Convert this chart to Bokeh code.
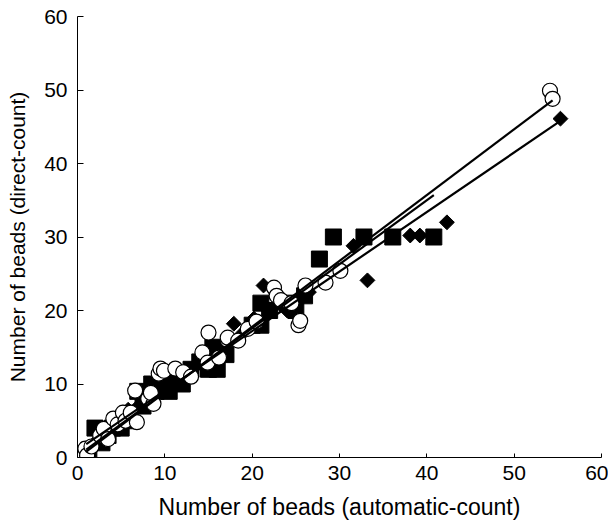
from bokeh.plotting import figure
from bokeh.models import Range1d, FixedTicker
from bokeh.embed import file_html
from bokeh.resources import INLINE
import numpy as np

# ---- data ----
circle_x = [0.9, 1.1, 1.6, 2.6, 3.0, 3.5, 4.1, 4.6, 5.2, 5.5, 6.1, 6.6, 6.8, 8.1, 8.7, 8.4,
            9.3, 9.5, 9.9, 11.2, 12.1, 13.0, 14.3, 14.9, 15.0, 16.2, 17.2, 18.4, 19.5, 20.5,
            22.5, 22.8, 23.3, 24.5, 25.3, 25.5, 26.1, 28.4, 30.1, 54.1, 54.4]
circle_y = [1.2, 0.3, 1.5, 3.0, 3.9, 2.5, 5.3, 4.5, 6.1, 5.0, 6.1, 9.1, 4.8, 8.0, 7.3, 8.8,
            11.4, 12.1, 11.8, 12.1, 11.6, 11.0, 14.3, 12.9, 17.0, 13.6, 16.3, 15.9, 17.5, 18.5,
            23.1, 22.0, 21.4, 21.0, 18.0, 18.6, 23.4, 23.8, 25.4, 49.9, 48.8]

square_x = [1.3, 2.0, 2.8, 3.5, 4.0, 5.0, 5.5, 6.0, 6.9, 7.5, 8.5, 9.0, 10.0, 10.5, 11.0,
            12.0, 13.0, 14.0, 15.0, 15.5, 16.0, 17.0, 20.0, 21.0, 21.0, 22.0, 24.0, 25.0,
            26.0, 27.7, 29.3, 32.8, 36.1, 40.8]
square_y = [1.0, 4.0, 2.0, 3.0, 4.0, 4.0, 5.0, 6.0, 9.0, 7.0, 10.0, 9.0, 10.0, 9.0, 11.0,
            10.0, 12.0, 13.0, 12.0, 15.0, 12.0, 14.0, 18.0, 18.0, 21.0, 20.0, 21.0, 20.0,
            22.0, 27.0, 30.0, 30.0, 30.0, 30.0]

diamond_x = [1.0, 2.0, 3.0, 4.0, 5.0, 5.8, 7.0, 8.0, 9.0, 10.0, 11.0, 12.0, 13.0, 14.0,
             15.0, 16.0, 17.9, 19.0, 20.2, 21.3, 21.3, 23.0, 24.0, 25.0, 26.5, 31.6, 33.2,
             38.1, 39.2, 42.3, 55.3]
diamond_y = [1.0, 2.0, 2.5, 4.0, 5.0, 6.5, 7.0, 8.0, 10.0, 9.0, 10.0, 11.0, 11.0, 13.0,
             14.0, 15.0, 18.2, 17.0, 18.9, 20.7, 23.4, 22.0, 20.0, 21.0, 22.5, 28.8, 24.1,
             30.2, 30.2, 32.0, 46.1]

# regression lines (circles, squares, diamonds)
fit_slope = [0.895, 0.870, 0.810]
fit_intercept = [-0.1, 0.2, 1.0]
fit_x_start = [1.0, 1.0, 1.0]
fit_x_end = [54.4, 40.8, 55.3]

x_ticks = [0, 10, 20, 30, 40, 50, 60]
y_ticks = [0, 10, 20, 30, 40, 50, 60]

FONT = "Liberation Sans"

p = figure(width=608, height=524, x_range=Range1d(0, 60), y_range=Range1d(0, 60),
           output_backend="svg", toolbar_location=None,
           min_border_left=77, min_border_right=7, min_border_top=16, min_border_bottom=67)
p.outline_line_color = None
p.xgrid.visible = False
p.ygrid.visible = False
p.background_fill_color = "white"
p.border_fill_color = "white"

for ax, ticks in ((p.xaxis[0], x_ticks), (p.yaxis[0], y_ticks)):
    ax.ticker = FixedTicker(ticks=ticks)
    ax.minor_tick_line_color = None
    ax.major_tick_out = 0
    ax.axis_line_color = "black"
    ax.major_tick_line_color = "black"
    ax.major_label_text_font = FONT
    ax.major_label_text_font_size = "21px"
    ax.major_label_text_color = "black"
    ax.axis_label_text_font = FONT
    ax.axis_label_text_font_style = "normal"
    ax.axis_label_text_color = "black"

p.xaxis.axis_label_text_font_size = "23px"
p.yaxis.axis_label_text_font_size = "21px"
p.xaxis.major_tick_in = 4
p.yaxis.major_tick_in = 6
p.xaxis.major_label_standoff = 8
p.yaxis.major_label_standoff = 10
p.xaxis.axis_label = "Number of beads (automatic-count)"
p.yaxis.axis_label = "Number of beads (direct-count)"
p.xaxis.axis_label_standoff = 11
p.yaxis.axis_label_standoff = 12

p.scatter(square_x, square_y, marker="square", size=16, fill_color="black", line_color="black")
p.scatter(diamond_x, diamond_y, marker="square", size=10.5, angle=np.pi / 4,
          fill_color="black", line_color="black")
p.scatter(circle_x, circle_y, marker="circle", size=15, fill_color="white",
          line_color="black", line_width=1.2)

for s, b, x0, x1 in zip(fit_slope, fit_intercept, fit_x_start, fit_x_end):
    xs = [x0, x1]
    ys = [s * x0 + b, s * x1 + b]
    p.line(xs, ys, line_color="black", line_width=2.2)

open("out.html", "w").write(file_html(p, INLINE))
